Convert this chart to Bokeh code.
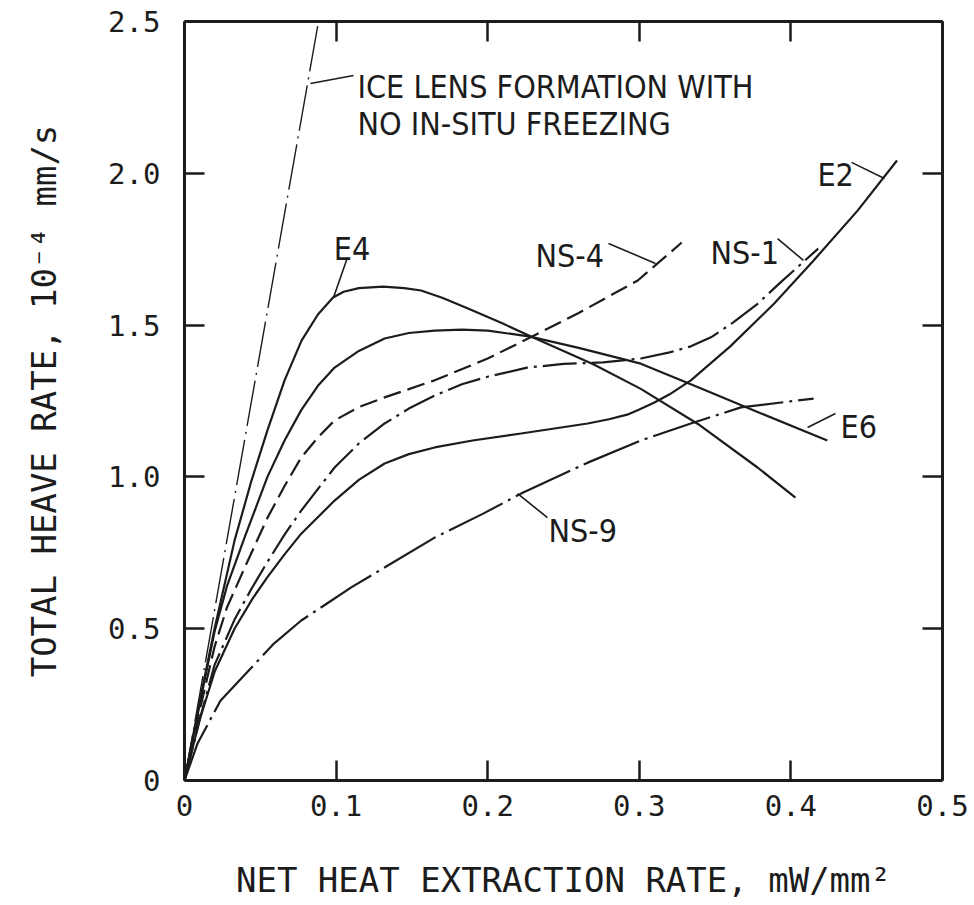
from bokeh.plotting import figure
from bokeh.models import Range1d, LinearAxis, FixedTicker, Label, ColumnDataSource
from bokeh.embed import file_html
from bokeh.resources import INLINE

# Net heat extraction rate (mW/mm^2) against total heave rate (10^-4 mm/s)
ice_x = [0.0, 0.0884]
ice_y = [0.0, 2.5]

e4_x = [0.0, 0.01, 0.0198, 0.033, 0.0442, 0.0547, 0.066, 0.0772, 0.088, 0.098,
        0.105, 0.115, 0.131, 0.145, 0.156, 0.17, 0.187, 0.21, 0.23, 0.25,
        0.27, 0.301, 0.34, 0.378, 0.403]
e4_y = [0.0, 0.26, 0.50, 0.79, 0.988, 1.153, 1.318, 1.449, 1.535, 1.591,
        1.610, 1.622, 1.627, 1.622, 1.614, 1.59, 1.555, 1.505, 1.459, 1.415,
        1.37, 1.29, 1.17, 1.031, 0.932]

e6_x = [0.0, 0.01, 0.0198, 0.028, 0.0396, 0.0547, 0.066, 0.077, 0.088, 0.099,
        0.115, 0.132, 0.148, 0.165, 0.183, 0.2, 0.228, 0.26, 0.301, 0.34,
        0.38, 0.424]
e6_y = [0.0, 0.25, 0.49, 0.64, 0.80, 1.0, 1.12, 1.22, 1.30, 1.36,
        1.415, 1.456, 1.474, 1.482, 1.485, 1.482, 1.462, 1.425, 1.373, 1.293,
        1.21, 1.12]

ns4_x = [0.0, 0.01, 0.0198, 0.028, 0.0396, 0.0547, 0.066, 0.077, 0.088, 0.099,
         0.115, 0.132, 0.165, 0.2, 0.228, 0.26, 0.299, 0.328]
ns4_y = [0.0, 0.23, 0.44, 0.57, 0.70, 0.865, 0.97, 1.064, 1.13, 1.186,
         1.23, 1.262, 1.318, 1.39, 1.459, 1.54, 1.647, 1.772]

ns1_x = [0.0, 0.01, 0.0198, 0.033, 0.044, 0.0547, 0.066, 0.077, 0.099, 0.115,
         0.132, 0.148, 0.165, 0.183, 0.2, 0.226, 0.25, 0.276, 0.301, 0.32,
         0.334, 0.348, 0.362, 0.378, 0.393, 0.418]
ns1_y = [0.0, 0.2, 0.38, 0.53, 0.63, 0.72, 0.81, 0.889, 1.031, 1.11,
         1.176, 1.225, 1.268, 1.305, 1.33, 1.36, 1.372, 1.377, 1.39, 1.41,
         1.43, 1.462, 1.509, 1.57, 1.64, 1.752]

e2_x = [0.0, 0.01, 0.02, 0.033, 0.045, 0.0547, 0.066, 0.077, 0.099, 0.115,
        0.132, 0.148, 0.165, 0.19, 0.222, 0.266, 0.28, 0.292, 0.30, 0.31,
        0.32, 0.334, 0.36, 0.389, 0.415, 0.444, 0.470]
e2_y = [0.0, 0.2, 0.36, 0.5, 0.6, 0.67, 0.745, 0.813, 0.922, 0.99,
        1.044, 1.075, 1.097, 1.12, 1.143, 1.176, 1.19, 1.205, 1.222, 1.245,
        1.272, 1.318, 1.43, 1.571, 1.713, 1.877, 2.042]

ns9_x = [0.0, 0.0086, 0.0237, 0.059, 0.077, 0.094, 0.11, 0.165, 0.197, 0.222,
         0.266, 0.301, 0.334, 0.367, 0.415]
ns9_y = [0.0, 0.122, 0.263, 0.451, 0.527, 0.583, 0.636, 0.80, 0.879, 0.945,
         1.047, 1.12, 1.176, 1.229, 1.258]

x_ticks = [0, 0.1, 0.2, 0.3, 0.4, 0.5]
x_tick_labels = ["0", "0.1", "0.2", "0.3", "0.4", "0.5"]
y_ticks = [0, 0.5, 1.0, 1.5, 2.0, 2.5]
y_tick_labels = ["0", "0.5", "1.0", "1.5", "2.0", "2.5"]

x_title = "NET HEAT EXTRACTION RATE, mW/mm\u00b2"
y_title = "TOTAL HEAVE RATE, 10\u207b\u2074 mm/s"

# curve name tags: text, left x, baseline y, leader start, leader end
tag_text = ["E4", "NS-4", "NS-1", "E2", "E6", "NS-9"]
tag_x = [0.0985, 0.2315, 0.347, 0.4175, 0.4327, 0.2401]
tag_y = [1.752, 1.729, 1.739, 1.993, 1.163, 0.823]
lead_x0 = [0.1075, 0.2797, 0.3912, 0.440, 0.4294, 0.2197, 0.0831]
lead_y0 = [1.723, 1.769, 1.785, 2.036, 1.209, 0.945, 2.296]
lead_x1 = [0.0983, 0.3107, 0.4083, 0.4617, 0.411, 0.2394, 0.1115]
lead_y1 = [1.591, 1.703, 1.713, 1.983, 1.163, 0.866, 2.322]

INK = "#1c1c1c"
TAG_FONT = "DejaVu Sans Condensed"
MONO = "DejaVu Sans Mono"

p = figure(width=974, height=905, output_backend="svg", toolbar_location=None,
           x_range=Range1d(0, 0.5), y_range=Range1d(0, 2.5),
           min_border_left=184, min_border_right=32,
           min_border_top=21, min_border_bottom=125)
p.outline_line_color = None
p.xgrid.visible = False
p.ygrid.visible = False
p.background_fill_color = "white"
p.border_fill_color = "white"

p.add_layout(LinearAxis(), "above")
p.add_layout(LinearAxis(), "right")

for ax in p.xaxis:
    ax.ticker = FixedTicker(ticks=x_ticks)
    ax.major_label_overrides = dict(zip(x_ticks, x_tick_labels))
for ax in p.yaxis:
    ax.ticker = FixedTicker(ticks=y_ticks)
    ax.major_label_overrides = dict(zip(y_ticks, y_tick_labels))

for ax in list(p.xaxis) + list(p.yaxis):
    ax.major_tick_in = 20
    ax.major_tick_out = 0
    ax.minor_tick_in = 0
    ax.minor_tick_out = 0
    ax.axis_line_width = 3
    ax.axis_line_color = INK
    ax.major_tick_line_width = 2.5
    ax.major_tick_line_color = INK
    ax.major_label_text_font = MONO
    ax.major_label_text_font_size = "29px"
    ax.major_label_text_color = INK
    ax.axis_label_text_font = MONO
    ax.axis_label_text_font_size = "34px"
    ax.axis_label_text_font_style = "normal"
    ax.axis_label_text_color = INK

p.below[0].major_label_standoff = 14
p.below[0].axis_label = x_title
p.below[0].axis_label_standoff = 41
p.left[0].major_label_standoff = 24
p.left[0].axis_label = y_title
p.left[0].axis_label_standoff = 41
for ax in (p.above[0], p.right[0]):
    ax.major_label_text_font_size = "0px"
    ax.major_label_text_color = None
    ax.major_label_standoff = 0

# reference line for ice lens formation alone
p.line(ice_x, ice_y, line_color=INK, line_width=1.4, line_dash="46 6 2 6")

solid = dict(line_color=INK, line_width=2.2)
p.line(e4_x, e4_y, **solid)
p.line(e6_x, e6_y, **solid)
p.line(e2_x, e2_y, **solid)
p.line(ns4_x, ns4_y, line_dash="18 7", **solid)
p.line(ns1_x, ns1_y, line_dash="34 6 3 6", **solid)
p.line(ns9_x, ns9_y, line_dash="60 6 3 6", **solid)

leaders = ColumnDataSource(dict(x0=lead_x0, y0=lead_y0, x1=lead_x1, y1=lead_y1))
p.segment("x0", "y0", "x1", "y1", source=leaders, line_color=INK, line_width=1.6)

for t, x, y in zip(tag_text, tag_x, tag_y):
    p.add_layout(Label(x=x, y=y, text=t, text_font=TAG_FONT, text_font_size="32px",
                       text_color=INK, text_align="left", text_baseline="alphabetic"))

p.add_layout(Label(x=0.1141, y=2.283, text="ICE LENS FORMATION WITH",
                   text_font=TAG_FONT, text_font_size="32px", text_color=INK,
                   text_baseline="alphabetic"))
p.add_layout(Label(x=0.1141, y=2.164, text="NO IN-SITU FREEZING",
                   text_font=TAG_FONT, text_font_size="32px", text_color=INK,
                   text_baseline="alphabetic"))

open("out.html", "w").write(file_html(p, INLINE))
